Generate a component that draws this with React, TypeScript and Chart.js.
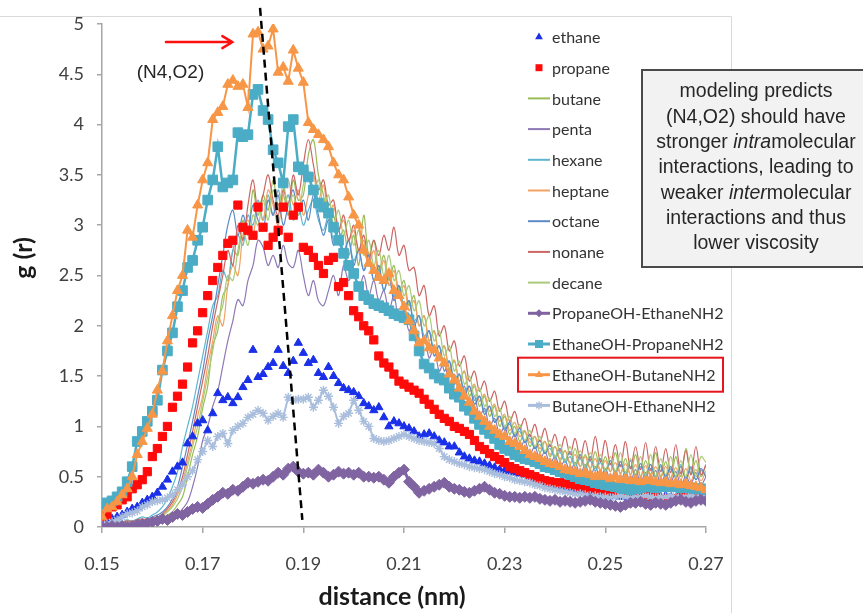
import React, { useEffect, useRef } from 'react';
import { Chart, registerables } from 'chart.js';

Chart.register(...registerables);

// ---------- data ----------
const R_START = 0.15;
const R_STEP = 0.001;
const R_COUNT = 121;
const DISTANCE = Array.from({ length: R_COUNT }, (_, i) => Math.round((R_START + i * R_STEP) * 1000) / 1000);

const X_TICKS = [0.15, 0.17, 0.19, 0.21, 0.23, 0.25, 0.27];
const Y_TICKS = [0, 0.5, 1, 1.5, 2, 2.5, 3, 3.5, 4, 4.5, 5];

const ETHANE = [
  0.05, 0.06, 0.08, 0.1, 0.12, 0.15, 0.18, 0.2, 0.24, 0.27,
  0.3, 0.34, 0.4, 0.47, 0.55, 0.6, 0.64, 0.83, 0.9, 1.03,
  1.06, 0.96, 1.13, 1.33, 1.26, 1.29, 1.23, 1.29, 1.39, 1.46,
  1.76, 1.49, 1.52, 1.59, 1.63, 1.76, 1.6, 1.53, 1.65, 1.83,
  1.73, 1.63, 1.66, 1.53, 1.49, 1.59, 1.5, 1.43, 1.38, 1.36,
  1.34, 1.3, 1.23, 1.2, 1.16, 1.19, 1.09, 1.0, 1.05, 1.03,
  1.0, 0.98, 0.95, 0.9, 0.92, 0.93, 0.9, 0.86, 0.84, 0.8,
  0.8, 0.74, 0.7, 0.68, 0.66, 0.65, 0.63, 0.61, 0.59, 0.57,
  0.56, 0.55, 0.54, 0.53, 0.52, 0.5, 0.48, 0.46, 0.43, 0.41,
  0.4, 0.39, 0.38, 0.37, 0.37, 0.36, 0.35, 0.34, 0.34, 0.33,
  0.32, 0.31, 0.31, 0.3, 0.3, 0.31, 0.3, 0.29, 0.3, 0.3,
  0.29, 0.3, 0.31, 0.3, 0.29, 0.3, 0.3, 0.31, 0.3, 0.29,
  0.3,
];

const PROPANE = [
  0.1, 0.12, 0.2, 0.22, 0.27, 0.3, 0.38, 0.42, 0.47, 0.55,
  0.7, 0.78, 0.9, 1.0, 1.19, 1.3, 1.42, 1.59, 1.83, 1.95,
  2.13, 2.3, 2.45, 2.58, 2.7, 2.82, 2.85, 3.2, 2.98, 2.95,
  2.9, 3.18, 2.98, 2.8, 2.88, 2.95, 3.18, 2.88, 3.1, 3.18,
  2.78, 2.75, 2.68, 2.6, 2.52, 2.65, 2.68, 2.39, 2.43, 2.3,
  2.15, 2.09, 2.0, 1.95, 1.86, 1.7, 1.63, 1.59, 1.52, 1.45,
  1.42, 1.39, 1.36, 1.33, 1.27, 1.22, 1.17, 1.12, 1.08, 1.05,
  1.0, 0.98, 0.95, 0.92, 0.86, 0.8, 0.77, 0.73, 0.7, 0.67,
  0.64, 0.6, 0.58, 0.56, 0.54, 0.52, 0.5, 0.48, 0.46, 0.45,
  0.44, 0.44, 0.43, 0.42, 0.41, 0.4, 0.39, 0.38, 0.37, 0.37,
  0.36, 0.35, 0.35, 0.34, 0.34, 0.33, 0.32, 0.31, 0.3, 0.3,
  0.29, 0.28, 0.27, 0.28, 0.28, 0.29, 0.3, 0.31, 0.33, 0.34,
  0.35,
];

const BUTANE = [
  0.02, 0.03, 0.02, 0.04, 0.03, 0.05, 0.04, 0.06, 0.05, 0.07,
  0.06, 0.08, 0.09, 0.12, 0.15, 0.22, 0.3, 0.5, 0.72, 0.9,
  1.18, 1.4, 1.8, 1.95, 2.3, 2.4, 2.75, 2.7, 3.05, 2.9,
  3.35, 3.1, 3.3, 3.15, 3.45, 3.2, 3.3, 3.1, 3.45, 3.25,
  3.3, 3.7, 3.85, 3.5, 3.3, 3.05, 3.1, 2.85, 2.95, 2.7,
  2.9, 2.6, 3.1, 2.7, 2.85, 2.55, 2.7, 2.45, 2.6, 2.35,
  2.45, 2.2, 2.3, 2.0, 2.1, 1.85, 1.95, 1.7, 1.8, 1.55,
  1.65, 1.45, 1.55, 1.3, 1.4, 1.2, 1.3, 1.1, 1.2, 1.0,
  1.1, 0.92, 1.0, 0.85, 0.95, 0.8, 0.9, 0.74, 0.85, 0.7,
  0.8, 0.66, 0.76, 0.62, 0.78, 0.6, 0.72, 0.58, 0.75, 0.56,
  0.7, 0.55, 0.74, 0.53, 0.68, 0.52, 0.72, 0.5, 0.66, 0.52,
  0.74, 0.5, 0.65, 0.48, 0.7, 0.5, 0.78, 0.52, 0.66, 0.5,
  0.62,
];

const PENTA = [
  0.01, 0.02, 0.01, 0.02, 0.03, 0.02, 0.03, 0.04, 0.03, 0.05,
  0.04, 0.05, 0.06, 0.07, 0.09, 0.12, 0.18, 0.25, 0.4, 0.6,
  0.86, 1.0, 1.2, 1.35, 1.6, 1.85, 2.05, 2.26, 2.2, 2.45,
  2.6, 2.85, 2.78, 2.6, 2.7, 2.58, 2.8, 2.62, 2.58, 2.75,
  2.5, 2.3, 2.45, 2.25, 2.2, 2.35, 2.5, 2.3, 2.6, 2.45,
  2.55, 2.35, 2.5, 2.3, 2.45, 2.25, 2.35, 2.15, 2.3, 2.05,
  2.15, 1.95, 2.05, 1.8, 1.9, 1.68, 1.78, 1.55, 1.65, 1.42,
  1.52, 1.32, 1.4, 1.2, 1.3, 1.1, 1.18, 1.0, 1.08, 0.92,
  1.0, 0.85, 0.92, 0.78, 0.86, 0.72, 0.8, 0.67, 0.75, 0.63,
  0.7, 0.6, 0.66, 0.55, 0.64, 0.52, 0.62, 0.5, 0.6, 0.48,
  0.58, 0.47, 0.56, 0.46, 0.55, 0.45, 0.57, 0.44, 0.54, 0.45,
  0.56, 0.43, 0.52, 0.44, 0.55, 0.42, 0.5, 0.43, 0.54, 0.42,
  0.5,
];

const HEXANE = [
  0.04, 0.05, 0.04, 0.06, 0.05, 0.07, 0.06, 0.08, 0.1, 0.09,
  0.12, 0.15, 0.2, 0.28, 0.4, 0.55, 0.8, 1.0, 1.2, 1.45,
  1.7, 1.95, 2.2, 2.3, 2.55, 2.45, 2.75, 2.9, 2.8, 3.1,
  3.0, 3.25, 3.05, 3.3, 3.1, 3.35, 3.15, 3.3, 3.05, 3.2,
  3.0, 3.15, 3.25, 3.05, 2.95, 3.1, 2.85, 2.95, 2.75, 2.85,
  2.65, 2.75, 2.55, 2.65, 2.45, 2.55, 2.35, 2.5, 2.3, 2.4,
  2.2, 2.25, 2.05, 2.1, 1.9, 1.95, 1.75, 1.8, 1.6, 1.65,
  1.48, 1.52, 1.36, 1.4, 1.26, 1.3, 1.15, 1.2, 1.05, 1.1,
  0.98, 1.02, 0.9, 0.95, 0.84, 0.88, 0.78, 0.82, 0.73, 0.78,
  0.68, 0.74, 0.64, 0.7, 0.6, 0.68, 0.58, 0.66, 0.56, 0.64,
  0.55, 0.63, 0.53, 0.62, 0.52, 0.6, 0.5, 0.6, 0.5, 0.58,
  0.49, 0.6, 0.48, 0.58, 0.5, 0.62, 0.48, 0.58, 0.47, 0.56,
  0.5,
];

const HEPTANE = [
  0.03, 0.02, 0.04, 0.03, 0.05, 0.04, 0.06, 0.05, 0.07, 0.08,
  0.07, 0.1, 0.12, 0.16, 0.22, 0.32, 0.45, 0.65, 0.85, 1.1,
  1.3, 1.6, 1.85, 2.1, 2.0, 2.4, 2.6, 2.5, 2.9, 3.05,
  2.9, 3.2, 3.05, 3.35, 3.2, 3.0, 3.3, 3.45, 3.2, 3.35,
  3.1, 3.3, 3.5, 3.25, 3.4, 3.1, 3.2, 2.95, 3.05, 2.85,
  2.95, 2.75, 2.85, 2.6, 2.75, 2.5, 2.65, 2.4, 2.55, 2.3,
  2.4, 2.15, 2.25, 2.0, 2.1, 1.85, 1.95, 1.7, 1.8, 1.58,
  1.66, 1.45, 1.55, 1.35, 1.42, 1.25, 1.32, 1.15, 1.22, 1.05,
  1.12, 0.96, 1.04, 0.9, 0.96, 0.84, 0.9, 0.78, 0.85, 0.72,
  0.8, 0.68, 0.76, 0.64, 0.72, 0.6, 0.7, 0.58, 0.68, 0.56,
  0.66, 0.55, 0.64, 0.53, 0.63, 0.52, 0.62, 0.5, 0.61, 0.5,
  0.6, 0.49, 0.6, 0.48, 0.59, 0.47, 0.58, 0.46, 0.57, 0.46,
  0.56,
];

const OCTANE = [
  0.02, 0.03, 0.04, 0.03, 0.05, 0.04, 0.05, 0.07, 0.06, 0.08,
  0.1, 0.12, 0.15, 0.2, 0.28, 0.4, 0.6, 0.82, 1.05, 1.3,
  1.55, 1.85, 2.1, 2.4, 2.7, 3.0, 3.15, 2.9, 3.1, 2.95,
  3.2, 3.05, 2.95, 3.25, 3.1, 3.3, 3.0, 3.2, 3.35, 3.1,
  3.25, 3.05, 3.3, 3.1, 2.9, 3.05, 2.8, 2.95, 2.7, 2.85,
  2.6, 2.75, 2.55, 2.7, 2.45, 2.6, 2.35, 2.5, 2.25, 2.4,
  2.15, 2.25, 2.0, 2.1, 1.85, 1.95, 1.7, 1.8, 1.55, 1.65,
  1.42, 1.52, 1.32, 1.4, 1.22, 1.3, 1.12, 1.2, 1.04, 1.1,
  0.96, 1.04, 0.9, 0.98, 0.84, 0.92, 0.78, 0.86, 0.73, 0.82,
  0.7, 0.78, 0.66, 0.75, 0.62, 0.72, 0.6, 0.7, 0.58, 0.68,
  0.56, 0.66, 0.55, 0.65, 0.54, 0.66, 0.52, 0.63, 0.52, 0.62,
  0.5, 0.62, 0.5, 0.6, 0.49, 0.6, 0.48, 0.6, 0.47, 0.58,
  0.5,
];

const NONANE = [
  0.03, 0.04, 0.03, 0.05, 0.04, 0.06, 0.05, 0.07, 0.08, 0.07,
  0.09, 0.1, 0.13, 0.18, 0.25, 0.35, 0.5, 0.72, 0.95, 1.2,
  1.45, 1.7, 2.0, 2.25, 2.5, 2.75, 2.6, 3.0, 2.85, 3.2,
  3.45, 3.15, 3.3, 3.5, 3.25, 3.1, 3.35, 3.2, 3.5, 3.3,
  3.6, 3.85, 3.6, 3.35, 3.45, 3.2, 3.25, 2.95, 3.1, 2.85,
  3.0, 2.75, 2.9, 2.65, 2.85, 2.7, 2.9, 2.75, 2.98, 2.7,
  2.8, 2.55, 2.58, 2.3, 2.4, 2.1, 2.2, 1.9, 2.0, 1.75,
  1.85, 1.6, 1.7, 1.45, 1.55, 1.35, 1.45, 1.25, 1.35, 1.15,
  1.25, 1.05, 1.15, 0.98, 1.08, 0.9, 1.02, 0.85, 0.98, 0.8,
  0.92, 0.75, 0.9, 0.72, 0.88, 0.68, 0.86, 0.66, 0.9, 0.65,
  0.86, 0.62, 0.82, 0.6, 0.85, 0.58, 0.8, 0.57, 0.84, 0.56,
  0.8, 0.55, 0.78, 0.54, 0.82, 0.53, 0.76, 0.52, 0.8, 0.52,
  0.62,
];

const DECANE = [
  0.02, 0.03, 0.02, 0.03, 0.04, 0.03, 0.05, 0.04, 0.06, 0.07,
  0.08, 0.1, 0.11, 0.15, 0.2, 0.28, 0.4, 0.6, 0.8, 1.0,
  1.25, 1.5, 1.75, 2.05, 2.2, 2.5, 2.45, 2.75, 2.95, 2.8,
  3.1, 3.0, 3.25, 3.05, 3.35, 3.15, 3.4, 3.2, 3.3, 3.1,
  3.4, 3.55, 3.3, 3.45, 3.2, 3.3, 3.0, 3.15, 2.9, 3.05,
  2.8, 2.95, 2.7, 2.85, 2.6, 2.75, 2.5, 2.7, 2.45, 2.55,
  2.3, 2.4, 2.15, 2.25, 2.0, 2.1, 1.85, 1.95, 1.7, 1.8,
  1.55, 1.65, 1.42, 1.5, 1.3, 1.38, 1.2, 1.28, 1.1, 1.18,
  1.0, 1.1, 0.93, 1.02, 0.86, 0.96, 0.8, 0.9, 0.75, 0.86,
  0.7, 0.82, 0.66, 0.8, 0.62, 0.76, 0.6, 0.74, 0.58, 0.72,
  0.56, 0.7, 0.55, 0.74, 0.54, 0.68, 0.52, 0.7, 0.52, 0.72,
  0.5, 0.68, 0.52, 0.7, 0.5, 0.66, 0.5, 0.72, 0.5, 0.7,
  0.64,
];

const PROPANEOH_ETHANENH2 = [
  0.0, 0.0, 0.01, 0.0, 0.01, 0.0, 0.01, 0.02, 0.03, 0.04,
  0.05, 0.06, 0.08, 0.07, 0.1, 0.13, 0.12, 0.15, 0.18, 0.2,
  0.19, 0.23, 0.27, 0.3, 0.34, 0.33, 0.37, 0.36, 0.4, 0.44,
  0.43, 0.45, 0.47, 0.46, 0.5, 0.54, 0.52, 0.58, 0.6, 0.55,
  0.53, 0.54, 0.52, 0.57, 0.54, 0.5, 0.52, 0.55, 0.53, 0.54,
  0.52, 0.54, 0.5, 0.5, 0.49, 0.5, 0.47, 0.44, 0.5, 0.54,
  0.57, 0.45, 0.4, 0.34, 0.36, 0.38, 0.4, 0.42, 0.44, 0.4,
  0.38, 0.37, 0.35, 0.34, 0.36, 0.38, 0.4, 0.37, 0.34, 0.33,
  0.31, 0.3, 0.3, 0.29, 0.3, 0.29, 0.3, 0.28, 0.27, 0.26,
  0.27, 0.25, 0.26, 0.25, 0.24, 0.25, 0.26, 0.27, 0.25, 0.24,
  0.23, 0.22, 0.21, 0.2, 0.22, 0.24, 0.24, 0.25, 0.23, 0.22,
  0.24, 0.23, 0.22, 0.24, 0.26, 0.27, 0.25, 0.24, 0.26, 0.27,
  0.26,
];

const ETHANEOH_PROPANENH2 = [
  0.22, 0.24, 0.26, 0.3, 0.35, 0.45, 0.6, 0.85, 0.95, 1.05,
  1.15, 1.26, 1.56, 1.75, 1.93, 2.19, 2.35, 2.58, 2.65, 2.85,
  2.98, 3.25, 3.45, 3.78, 3.38, 3.42, 3.45, 3.92, 3.88, 3.9,
  4.3, 4.35, 4.14, 4.05, 3.75, 3.62, 3.42, 3.98, 4.05, 3.58,
  3.55, 3.48, 3.35, 3.22, 3.18, 3.12, 2.98, 2.85, 2.72, 2.6,
  2.52, 2.39, 2.3, 2.26, 2.22, 2.2, 2.18, 2.15, 2.12, 2.1,
  2.08, 2.06, 1.9, 1.75, 1.62, 1.58, 1.52, 1.48, 1.46, 1.38,
  1.32, 1.29, 1.2, 1.16, 1.08, 1.02, 0.97, 0.93, 0.88, 0.82,
  0.78, 0.76, 0.72, 0.7, 0.68, 0.67, 0.65, 0.63, 0.6, 0.59,
  0.57, 0.55, 0.54, 0.52, 0.5, 0.48, 0.47, 0.46, 0.44, 0.43,
  0.42, 0.41, 0.4, 0.39, 0.38, 0.37, 0.38, 0.39, 0.4, 0.4,
  0.39, 0.4, 0.41, 0.4, 0.4, 0.39, 0.4, 0.39, 0.38, 0.38,
  0.37,
];

const ETHANEOH_BUTANENH2 = [
  0.1, 0.18, 0.2, 0.25, 0.32, 0.38, 0.5, 0.72, 0.85, 0.98,
  1.12, 1.36, 1.55, 1.85, 2.1, 2.35, 2.5, 2.95, 2.88, 3.2,
  3.45, 3.62, 4.05, 4.12, 4.18, 4.4, 4.44, 4.38, 4.4, 4.17,
  4.9, 4.92, 4.75, 4.78, 4.95, 4.52, 4.57, 4.43, 4.74, 4.56,
  4.42, 4.02, 3.95, 3.9, 3.85, 3.78, 3.62, 3.5, 3.45, 3.28,
  3.1, 3.0, 2.75, 2.62, 2.55, 2.48, 2.45, 2.52, 2.35, 2.3,
  2.19, 2.05, 1.95, 1.83, 1.85, 1.78, 1.76, 1.68, 1.63, 1.52,
  1.46, 1.38, 1.3, 1.24, 1.15, 1.1, 1.05, 1.0, 0.96, 0.92,
  0.9, 0.85, 0.83, 0.8, 0.76, 0.72, 0.7, 0.68, 0.65, 0.63,
  0.62, 0.6, 0.57, 0.56, 0.55, 0.53, 0.54, 0.52, 0.5, 0.52,
  0.5, 0.48, 0.5, 0.47, 0.48, 0.46, 0.47, 0.45, 0.46, 0.47,
  0.45, 0.44, 0.45, 0.43, 0.44, 0.42, 0.43, 0.41, 0.4, 0.39,
  0.37,
];

const BUTANEOH_ETHANENH2 = [
  0.02, 0.03, 0.05, 0.07, 0.1, 0.13, 0.14, 0.16, 0.2, 0.22,
  0.25, 0.26, 0.27, 0.29, 0.32, 0.37, 0.42, 0.5, 0.56, 0.67,
  0.75, 0.86, 0.8, 0.9, 0.93, 0.83, 0.96, 1.0, 1.03, 1.09,
  1.12, 1.16, 1.13, 1.06, 1.1, 1.13, 1.09, 1.29, 1.26, 1.27,
  1.27, 1.29, 1.19, 1.26, 1.36, 1.3, 1.19, 1.03, 1.1, 1.13,
  1.26, 1.16, 1.05, 1.0, 0.88, 0.86, 0.85, 0.86, 0.88, 0.9,
  0.92, 0.9, 0.88, 0.86, 0.85, 0.84, 0.83, 0.78, 0.7, 0.67,
  0.65, 0.63, 0.62, 0.6, 0.59, 0.58, 0.57, 0.55, 0.53, 0.52,
  0.5, 0.49, 0.47, 0.46, 0.45, 0.44, 0.42, 0.41, 0.39, 0.38,
  0.37, 0.36, 0.35, 0.34, 0.33, 0.33, 0.32, 0.31, 0.31, 0.3,
  0.3, 0.29, 0.3, 0.31, 0.3, 0.29, 0.3, 0.3, 0.31, 0.3,
  0.29, 0.3, 0.3, 0.31, 0.3, 0.29, 0.3, 0.31, 0.3, 0.29,
  0.3,
];

// dashed guide line (data units) and annotations
const GUIDE_LINE = [{ x: 0.1814, y: 5.16 }, { x: 0.1898, y: 0.07 }];
const ARROW = [{ x: 0.1627, y: 4.82 }, { x: 0.1759, y: 4.82 }];
const PEAK_LABEL = { x: 0.1636, y: 4.52, text: '(N4,O2)' };

const NOTE_LINES = [
  [{ t: 'modeling predicts' }],
  [{ t: '(N4,O2) should have' }],
  [{ t: 'stronger ' }, { t: 'intra', i: true }, { t: 'molecular' }],
  [{ t: 'interactions, leading to' }],
  [{ t: 'weaker ' }, { t: 'inter', i: true }, { t: 'molecular' }],
  [{ t: 'interactions and thus' }],
  [{ t: 'lower viscosity' }],
];

const X_TITLE = 'distance (nm)';
const Y_TITLE = 'g (r)';

type Series = {
  name: string;
  values: number[];
  color: string;
  line: number;
  point: string | null;
  radius: number;
  z: number;
  tension?: number;
  boxed?: boolean;
};

const SERIES: Series[] = [
  { name: 'ethane', values: ETHANE, color: '#1A30E8', line: 0, point: 'triangle', radius: 4.8, z: 5 },
  { name: 'propane', values: PROPANE, color: '#FF0A0A', line: 0, point: 'rect', radius: 5.8, z: 4 },
  { name: 'butane', values: BUTANE, color: '#9BBB59', line: 1.2, point: null, radius: 0, z: 12, tension: 0.35 },
  { name: 'penta', values: PENTA, color: '#8E78B6', line: 1.2, point: null, radius: 0, z: 11, tension: 0.35 },
  { name: 'hexane', values: HEXANE, color: '#5DB6CE', line: 1.2, point: null, radius: 0, z: 10, tension: 0.35 },
  { name: 'heptane', values: HEPTANE, color: '#F0A263', line: 1.2, point: null, radius: 0, z: 9, tension: 0.35 },
  { name: 'octane', values: OCTANE, color: '#5B8AC6', line: 1.2, point: null, radius: 0, z: 8, tension: 0.35 },
  { name: 'nonane', values: NONANE, color: '#CC6664', line: 1.2, point: null, radius: 0, z: 7, tension: 0.35 },
  { name: 'decane', values: DECANE, color: '#A9CB78', line: 1.2, point: null, radius: 0, z: 6, tension: 0.35 },
  { name: 'PropaneOH-EthaneNH2', values: PROPANEOH_ETHANENH2, color: '#8064A2', line: 3, point: 'rectRot', radius: 5.5, z: 2 },
  { name: 'EthaneOH-PropaneNH2', values: ETHANEOH_PROPANENH2, color: '#4BACC6', line: 2.5, point: 'rect', radius: 6.8, z: 1 },
  { name: 'EthaneOH-ButaneNH2', values: ETHANEOH_BUTANENH2, color: '#F79646', line: 2, point: 'triangle', radius: 5.8, z: 0, boxed: true },
  { name: 'ButaneOH-EthaneNH2', values: BUTANEOH_ETHANENH2, color: '#A9BEDC', line: 2, point: 'star', radius: 4.5, z: 3 },
];

// ---------- drawing helpers ----------
function drawMarker(ctx: CanvasRenderingContext2D, style: string, x: number, y: number, r: number, color: string) {
  ctx.save();
  ctx.fillStyle = color;
  ctx.strokeStyle = color;
  ctx.beginPath();
  if (style === 'triangle') {
    ctx.moveTo(x, y - r);
    ctx.lineTo(x + r * 0.866, y + r * 0.5);
    ctx.lineTo(x - r * 0.866, y + r * 0.5);
    ctx.closePath();
    ctx.fill();
  } else if (style === 'rect') {
    ctx.rect(x - r, y - r, 2 * r, 2 * r);
    ctx.fill();
  } else if (style === 'rectRot') {
    ctx.moveTo(x, y - r);
    ctx.lineTo(x + r, y);
    ctx.lineTo(x, y + r);
    ctx.lineTo(x - r, y);
    ctx.closePath();
    ctx.fill();
  } else if (style === 'star') {
    ctx.lineWidth = 1.4;
    for (let k = 0; k < 4; k++) {
      const a = (k * Math.PI) / 4;
      ctx.moveTo(x - Math.cos(a) * r, y - Math.sin(a) * r);
      ctx.lineTo(x + Math.cos(a) * r, y + Math.sin(a) * r);
    }
    ctx.stroke();
  }
  ctx.restore();
}

const LEGEND = { sampleLeft: 528, sampleRight: 550, markerX: 539, textX: 552, top: 37, step: 30.7 };
const NOTE_BOX = { left: 642, top: 70, right: 872, bottom: 267, centerX: 756, firstLine: 92, lineStep: 25.3 };

const overlayPlugin = {
  id: 'overlay',
  beforeDraw(chart: any) {
    const ctx: CanvasRenderingContext2D = chart.ctx;
    ctx.save();
    ctx.strokeStyle = '#D9D9D9';
    ctx.lineWidth = 1;
    ctx.beginPath();
    ctx.moveTo(0, 16.5);
    ctx.lineTo(731.5, 16.5);
    ctx.lineTo(731.5, chart.height);
    ctx.stroke();
    ctx.restore();
  },
  afterDraw(chart: any) {
    const ctx: CanvasRenderingContext2D = chart.ctx;
    const xs = chart.scales.x;
    const ys = chart.scales.y;

    // red arrow
    const ax0 = xs.getPixelForValue(ARROW[0].x);
    const ax1 = xs.getPixelForValue(ARROW[1].x);
    const ay = ys.getPixelForValue(ARROW[0].y);
    ctx.save();
    ctx.strokeStyle = '#FF1010';
    ctx.lineWidth = 2.5;
    ctx.lineCap = 'round';
    ctx.beginPath();
    ctx.moveTo(ax0, ay);
    ctx.lineTo(ax1, ay);
    ctx.moveTo(ax1 - 10, ay - 6);
    ctx.lineTo(ax1, ay);
    ctx.lineTo(ax1 - 10, ay + 6);
    ctx.stroke();
    ctx.restore();

    // peak label
    ctx.save();
    ctx.fillStyle = '#262626';
    ctx.font = '19px "Liberation Sans", Arial, sans-serif';
    ctx.textAlign = 'center';
    ctx.textBaseline = 'middle';
    ctx.fillText(PEAK_LABEL.text, xs.getPixelForValue(PEAK_LABEL.x), ys.getPixelForValue(PEAK_LABEL.y));
    ctx.restore();

    // legend
    ctx.save();
    ctx.font = '16px Lato, "Open Sans", sans-serif';
    ctx.textBaseline = 'middle';
    ctx.textAlign = 'left';
    SERIES.forEach((s, k) => {
      const y = LEGEND.top + k * LEGEND.step;
      if (s.line > 0) {
        ctx.save();
        ctx.strokeStyle = s.color;
        ctx.lineWidth = s.line > 1.5 ? 3 : 2;
        ctx.beginPath();
        ctx.moveTo(LEGEND.sampleLeft, y);
        ctx.lineTo(LEGEND.sampleRight, y);
        ctx.stroke();
        ctx.restore();
      }
      if (s.point) {
        const r = s.point === 'rect' ? (s.line > 0 ? 4 : 3.5) : s.point === 'triangle' ? 4.5 : 4;
        drawMarker(ctx, s.point, LEGEND.markerX, y, r, s.color);
      }
      ctx.fillStyle = '#333333';
      ctx.fillText(s.name, LEGEND.textX, y + 1);
      if (s.boxed) {
        ctx.save();
        ctx.strokeStyle = '#E8141B';
        ctx.lineWidth = 2;
        ctx.strokeRect(518, y - 17, 205, 34);
        ctx.restore();
      }
    });
    ctx.restore();

    // note box
    ctx.save();
    ctx.fillStyle = '#F2F2F2';
    ctx.fillRect(NOTE_BOX.left, NOTE_BOX.top, NOTE_BOX.right - NOTE_BOX.left, NOTE_BOX.bottom - NOTE_BOX.top);
    ctx.strokeStyle = '#4A4A4A';
    ctx.lineWidth = 2;
    ctx.strokeRect(NOTE_BOX.left, NOTE_BOX.top, NOTE_BOX.right - NOTE_BOX.left, NOTE_BOX.bottom - NOTE_BOX.top);
    ctx.fillStyle = '#262626';
    ctx.textBaseline = 'middle';
    ctx.textAlign = 'left';
    const normal = '19.5px "Liberation Sans", Arial, sans-serif';
    const italic = 'italic 19.5px "Liberation Sans", Arial, sans-serif';
    NOTE_LINES.forEach((segs, k) => {
      let total = 0;
      segs.forEach((sg: any) => {
        ctx.font = sg.i ? italic : normal;
        total += ctx.measureText(sg.t).width;
      });
      let x = NOTE_BOX.centerX - total / 2;
      const y = NOTE_BOX.firstLine + k * NOTE_BOX.lineStep;
      segs.forEach((sg: any) => {
        ctx.font = sg.i ? italic : normal;
        ctx.fillText(sg.t, x, y);
        x += ctx.measureText(sg.t).width;
      });
    });
    ctx.restore();

    // axis titles
    ctx.save();
    ctx.fillStyle = '#1A1A1A';
    ctx.font = 'bold 25px Lato, "Open Sans", sans-serif';
    ctx.textAlign = 'center';
    ctx.textBaseline = 'middle';
    ctx.fillText(X_TITLE, 392, 597);
    ctx.translate(24, 258);
    ctx.rotate(-Math.PI / 2);
    ctx.fillText(Y_TITLE, 0, 0);
    ctx.restore();
  },
};

export default function App() {
  const ref = useRef<HTMLCanvasElement>(null);

  useEffect(() => {
    const datasets: any[] = SERIES.map((s) => ({
      label: s.name,
      data: DISTANCE.map((x, i) => ({ x, y: s.values[i] })),
      borderColor: s.color,
      backgroundColor: s.color,
      borderWidth: s.line,
      showLine: s.line > 0,
      pointStyle: s.point || false,
      pointRadius: s.point ? s.radius : 0,
      pointBorderWidth: s.point === 'star' ? 1.4 : 1,
      pointBorderColor: s.color,
      pointBackgroundColor: s.color,
      tension: s.tension || 0,
      order: s.z,
    }));
    datasets.push({
      label: 'guide',
      data: GUIDE_LINE,
      borderColor: '#000000',
      borderWidth: 2.5,
      borderDash: [8, 5],
      pointRadius: 0,
      showLine: true,
      clip: false,
      order: -1,
    });

    const chart = new Chart(ref.current as HTMLCanvasElement, {
      type: 'line',
      data: { datasets },
      options: {
        animation: false,
        responsive: false,
        events: [],
        layout: { padding: { left: 0, right: 157, top: 24, bottom: 0 } },
        plugins: { legend: { display: false }, tooltip: { enabled: false } },
        scales: {
          x: {
            type: 'linear',
            min: 0.15,
            max: 0.27,
            afterBuildTicks: (s: any) => {
              s.ticks = X_TICKS.map((v) => ({ value: v }));
            },
            afterFit: (s: any) => {
              s.height = 86;
            },
            ticks: {
              callback: (v: any) => Number(v).toFixed(2),
              font: { family: 'Lato', size: 18 },
              color: '#404040',
              padding: 20,
              maxRotation: 0,
              autoSkip: false,
            },
            grid: { drawOnChartArea: false, drawTicks: true, tickLength: 6, color: '#A6A6A6', lineWidth: 1.5 },
            border: { display: true, color: '#A6A6A6', width: 1.5 },
          },
          y: {
            min: 0,
            max: 5,
            afterBuildTicks: (s: any) => {
              s.ticks = Y_TICKS.map((v) => ({ value: v }));
            },
            afterFit: (s: any) => {
              s.width = 102;
            },
            ticks: {
              callback: (v: any) => String(v),
              font: { family: 'Lato', size: 18 },
              color: '#404040',
              padding: 13,
            },
            grid: { drawOnChartArea: false, drawTicks: true, tickLength: 5, color: '#A6A6A6', lineWidth: 1.5 },
            border: { display: true, color: '#A6A6A6', width: 1.5 },
          },
        },
      },
      plugins: [overlayPlugin],
    } as any);
    return () => chart.destroy();
  }, []);

  return (
    <div style={{ position: 'absolute', left: 0, top: 0, width: 863, height: 613, background: '#ffffff' }}>
      <canvas ref={ref} width={863} height={613} style={{ display: 'block', width: 863, height: 613 }} />
    </div>
  );
}
